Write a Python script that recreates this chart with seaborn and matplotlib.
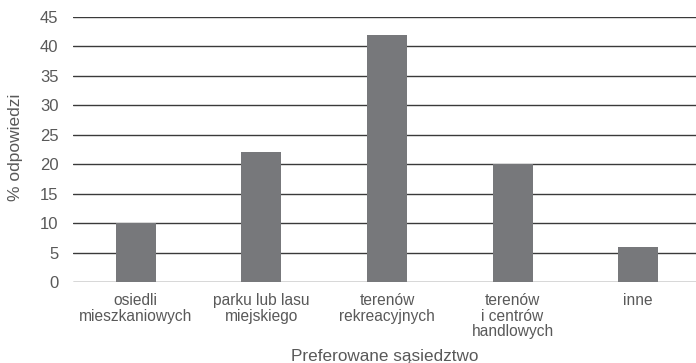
import matplotlib
matplotlib.use("Agg")
import matplotlib.pyplot as plt
import seaborn as sns
import pandas as pd

categories = [
    "osiedli\nmieszkaniowych",
    "parku lub lasu\nmiejskiego",
    "terenów\nrekreacyjnych",
    "terenów\ni centrów\nhandlowych",
    "inne",
]
values = [10, 22, 42, 20, 6]
y_ticks = [0, 5, 10, 15, 20, 25, 30, 35, 40, 45]

sns.set_theme(style="white")
plt.rcParams["font.family"] = ["Liberation Sans", "DejaVu Sans"]

text_color = "#595959"
bar_color = "#77787b"
grid_color = "#3a3a3a"

df = pd.DataFrame({"kategoria": categories, "procent": values})

fig = plt.figure(figsize=(6.96, 3.63), dpi=100)
# the plot area runs slightly past the right edge of the canvas
ax = fig.add_axes([73 / 696, 1 - 282 / 363, 628 / 696, 265 / 363])

sns.barplot(data=df, x="kategoria", y="procent", color=bar_color,
            width=0.32, saturation=1, linewidth=0, ax=ax, zorder=3)

ax.set_ylim(0, 45)
ax.set_xlim(-0.5, len(categories) - 0.5)
ax.set_yticks(y_ticks)
ax.set_axisbelow(True)
ax.yaxis.grid(True, color=grid_color, linewidth=1.0)
ax.xaxis.grid(False)
for side in ["top", "right", "left", "bottom"]:
    ax.spines[side].set_visible(False)

ax.tick_params(axis="y", length=0, pad=10.5, labelsize=12, labelcolor=text_color)
ax.tick_params(axis="x", length=0, pad=8, labelsize=11.2, labelcolor=text_color)
for lbl in ax.get_xticklabels():
    lbl.set_linespacing(1.05)
    lbl.set_verticalalignment("top")

ax.set_ylabel("")
ax.set_xlabel("")
fig.text(15.5 / 696, 1 - 147.5 / 363, "% odpowiedzi", rotation=90,
         ha="center", va="center", fontsize=12.5, color=text_color)
fig.text(385 / 696, 1 - 361 / 363, "Preferowane sąsiedztwo",
         ha="center", va="baseline", fontsize=12.3, color=text_color)

fig.savefig("out.png", dpi=100)
